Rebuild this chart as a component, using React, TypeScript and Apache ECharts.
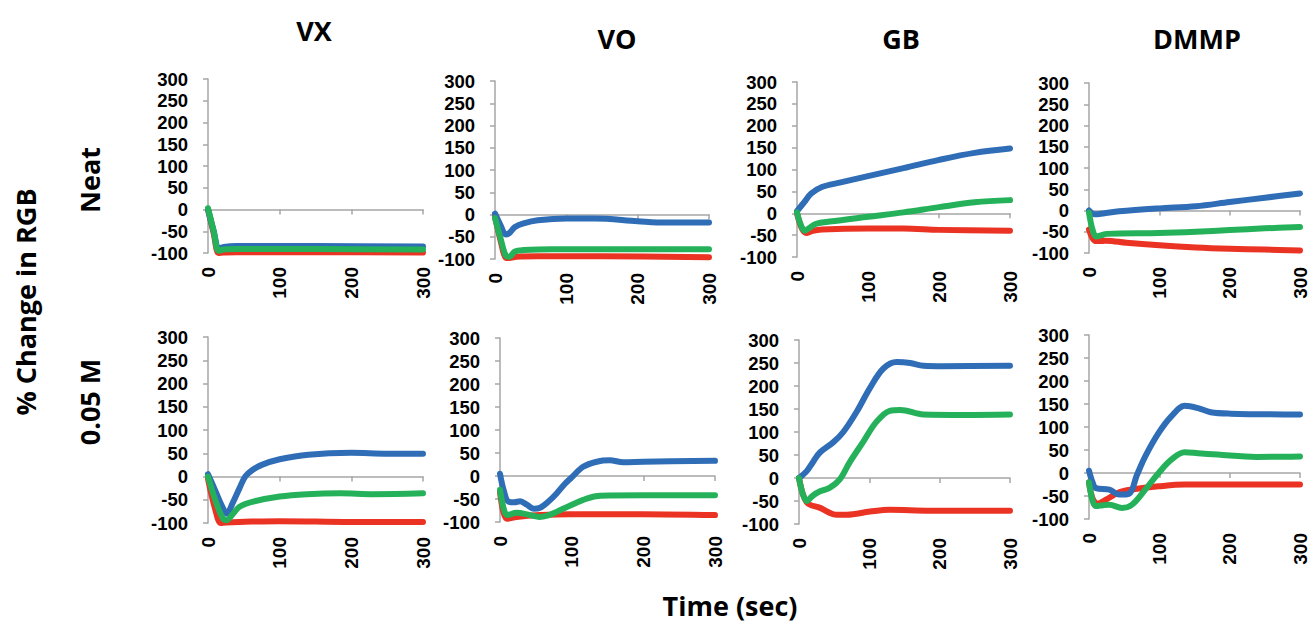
import React, { useEffect, useRef } from "react";
import * as echarts from "echarts";

// ---- data (time in sec, % change) ----
const panelTitles = ["VX", "VO", "GB", "DMMP"];
const rowLabels = ["Neat", "0.05 M"];
const yTicks = [-100, -50, 0, 50, 100, 150, 200, 250, 300];
const xTicks = [0, 100, 200, 300];

const vxNeatBlue = [[0, 0], [8, -50], [15, -90], [22, -86], [40, -84], [150, -84], [300, -85]];
const vxNeatGreen = [[0, 3], [8, -50], [15, -95], [22, -92], [40, -91], [150, -91], [300, -92]];
const vxNeatRed = [[0, 0], [8, -55], [15, -100], [22, -99], [40, -98], [150, -98], [300, -99]];

const voNeatBlue = [[0, 2], [8, -25], [15, -45], [20, -42], [28, -28], [40, -20], [60, -13], [100, -9], [140, -9], [200, -15], [240, -18], [300, -18]];
const voNeatGreen = [[0, -8], [8, -55], [15, -92], [20, -95], [28, -83], [40, -80], [80, -78], [200, -78], [300, -78]];
const voNeatRed = [[0, -5], [8, -60], [15, -97], [20, -98], [30, -95], [60, -94], [150, -94], [300, -96]];

const gbNeatBlue = [[0, 5], [10, 25], [20, 45], [35, 60], [60, 70], [100, 85], [150, 103], [200, 122], [250, 138], [300, 148]];
const gbNeatGreen = [[0, 2], [5, -25], [11, -40], [18, -33], [27, -24], [46, -19], [100, -8], [150, 2], [200, 14], [250, 25], [300, 30]];
const gbNeatRed = [[0, 0], [7, -35], [14, -45], [22, -40], [35, -37], [100, -35], [150, -35], [200, -38], [300, -40]];

const dmmpNeatBlue = [[0, 0], [8, -9], [20, -7], [43, -2], [100, 5], [152, 10], [200, 20], [250, 30], [300, 40]];
const dmmpNeatGreen = [[0, -5], [5, -45], [10, -61], [18, -58], [25, -55], [100, -53], [152, -50], [200, -46], [250, -42], [300, -39]];
const dmmpNeatRed = [[0, -45], [5, -65], [10, -72], [18, -72], [25, -71], [53, -76], [100, -82], [152, -87], [200, -90], [250, -92], [300, -94]];

const vxLowBlue = [[0, 5], [10, -30], [20, -65], [26, -80], [35, -55], [44, -25], [52, 0], [62, 14], [75, 25], [100, 37], [140, 47], [200, 51], [250, 49], [300, 49]];
const vxLowGreen = [[0, 0], [10, -50], [20, -88], [26, -94], [35, -80], [44, -65], [63, -54], [100, -43], [138, -38], [184, -36], [231, -38], [300, -36]];
const vxLowRed = [[0, -5], [10, -70], [18, -100], [25, -99], [60, -97], [100, -96], [200, -98], [300, -98]];

const voLowBlue = [[0, 5], [5, -30], [12, -56], [20, -57], [28, -55], [38, -63], [47, -71], [56, -69], [68, -55], [79, -38], [90, -18], [100, -3], [116, 20], [135, 31], [153, 34], [172, 30], [200, 31], [300, 33]];
const voLowGreen = [[0, -30], [5, -70], [10, -85], [23, -80], [42, -85], [55, -89], [68, -85], [79, -78], [98, -64], [121, -49], [140, -43], [200, -42], [300, -42]];
const voLowRed = [[0, -35], [5, -80], [10, -93], [23, -89], [56, -85], [98, -83], [200, -83], [300, -85]];

const gbLowBlue = [[0, 0], [11, 15], [20, 35], [30, 56], [49, 78], [63, 100], [82, 144], [101, 196], [120, 238], [139, 252], [158, 250], [177, 244], [205, 243], [300, 244]];
const gbLowGreen = [[0, 0], [11, -50], [20, -38], [30, -29], [44, -21], [58, -3], [72, 34], [91, 78], [110, 122], [129, 146], [144, 148], [177, 138], [234, 137], [300, 138]];
const gbLowRed = [[0, 0], [11, -53], [30, -65], [54, -80], [68, -80], [101, -73], [129, -69], [186, -71], [300, -71]];

const dmmpLowBlue = [[0, 5], [5, -20], [10, -33], [29, -36], [43, -47], [57, -45], [68, -5], [80, 36], [99, 87], [117, 123], [136, 146], [155, 141], [173, 132], [201, 129], [300, 127]];
const dmmpLowGreen = [[0, -20], [5, -60], [10, -72], [20, -70], [29, -69], [47, -76], [61, -69], [80, -36], [99, 0], [117, 29], [136, 45], [155, 43], [183, 40], [238, 35], [300, 36]];
const dmmpLowRed = [[0, -20], [5, -55], [12, -67], [24, -58], [43, -42], [61, -36], [99, -29], [136, -25], [300, -25]];

const panels = [
  { red: vxNeatRed, blue: vxNeatBlue, green: vxNeatGreen },
  { red: voNeatRed, blue: voNeatBlue, green: voNeatGreen },
  { red: gbNeatRed, blue: gbNeatBlue, green: gbNeatGreen },
  { red: dmmpNeatRed, blue: dmmpNeatBlue, green: dmmpNeatGreen },
  { red: vxLowRed, blue: vxLowBlue, green: vxLowGreen },
  { red: voLowRed, blue: voLowBlue, green: voLowGreen },
  { red: gbLowRed, blue: gbLowBlue, green: gbLowGreen },
  { red: dmmpLowRed, blue: dmmpLowBlue, green: dmmpLowGreen },
];

// layout (px): left, right, top, bottom of each plot area
const boxes = [
  [208, 423, 79, 253],
  [495, 709, 81, 259],
  [797, 1010, 82, 257],
  [1089, 1300, 83, 253],
  [208, 423, 337, 523],
  [500, 715, 338, 522],
  [799, 1010, 340, 524],
  [1089, 1300, 335, 519],
];

const COLORS = { red: "#ea3323", blue: "#2f6db6", green: "#25b15a" };
const FONT = "'Open Sans', 'DejaVu Sans', sans-serif";
const TICK_FONT = "'Liberation Sans', Arial, sans-serif";

export default function App() {
  const ref = useRef<HTMLDivElement>(null);

  useEffect(() => {
    document.body.style.margin = "0";
    if (!ref.current) return;
    const chart = echarts.init(ref.current, null, { renderer: "svg" });

    const grid: any[] = [];
    const xAxis: any[] = [];
    const yAxis: any[] = [];
    const series: any[] = [];

    boxes.forEach((b, i) => {
      grid.push({ left: b[0], top: b[2], width: b[1] - b[0], height: b[3] - b[2], containLabel: false });
      const axisLine = { show: true, lineStyle: { color: "#a6a6a6", width: 1.5 } };
      const axisTick = { show: true, length: 5, lineStyle: { color: "#a6a6a6", width: 1.5 } };
      xAxis.push({
        type: "value",
        gridIndex: i,
        min: xTicks[0],
        max: xTicks[xTicks.length - 1],
        interval: 100,
        axisLine,
        axisTick,
        splitLine: { show: false },
        axisLabel: { rotate: 90, margin: 14, color: "#000", fontWeight: "bold", fontSize: 19, fontFamily: TICK_FONT },
      });
      yAxis.push({
        type: "value",
        gridIndex: i,
        min: yTicks[0],
        max: yTicks[yTicks.length - 1],
        interval: 50,
        axisLine,
        axisTick,
        splitLine: { show: false },
        axisLabel: { margin: 20, color: "#000", fontWeight: "bold", fontSize: 18.5, fontFamily: TICK_FONT },
      });
      const p = panels[i];
      (["red", "blue", "green"] as const).forEach((c) => {
        series.push({
          type: "line",
          xAxisIndex: i,
          yAxisIndex: i,
          data: p[c],
          smooth: 0.35,
          showSymbol: false,
          symbol: "none",
          lineStyle: { color: COLORS[c], width: 6, cap: "round", join: "round" },
          itemStyle: { color: COLORS[c] },
          z: 3,
        });
      });
    });

    const titleStyle = (text: string) => ({
      text,
      font: `bold 27px ${FONT}`,
      fill: "#000",
      textAlign: "center",
      textVerticalAlign: "middle",
      align: "center",
      verticalAlign: "middle",
    });

    const titlePos = [
      [314, 30],
      [617, 38],
      [901, 38],
      [1197, 38],
    ];

    const graphic: any[] = [];
    panelTitles.forEach((t, i) => {
      graphic.push({ type: "text", x: titlePos[i][0], y: titlePos[i][1], style: titleStyle(t) });
    });
    graphic.push({ type: "text", x: 89, y: 180, rotation: Math.PI / 2, style: titleStyle(rowLabels[0]) });
    graphic.push({ type: "text", x: 89, y: 402, rotation: Math.PI / 2, style: titleStyle(rowLabels[1]) });
    graphic.push({ type: "text", x: 25, y: 302, rotation: Math.PI / 2, style: titleStyle("% Change in RGB") });
    graphic.push({ type: "text", x: 730, y: 605, style: titleStyle("Time (sec)") });

    chart.setOption({
      animation: false,
      backgroundColor: "#fff",
      grid,
      xAxis,
      yAxis,
      series,
      graphic,
    });

    return () => chart.dispose();
  }, []);

  return <div ref={ref} style={{ width: 1314, height: 626 }} />;
}
